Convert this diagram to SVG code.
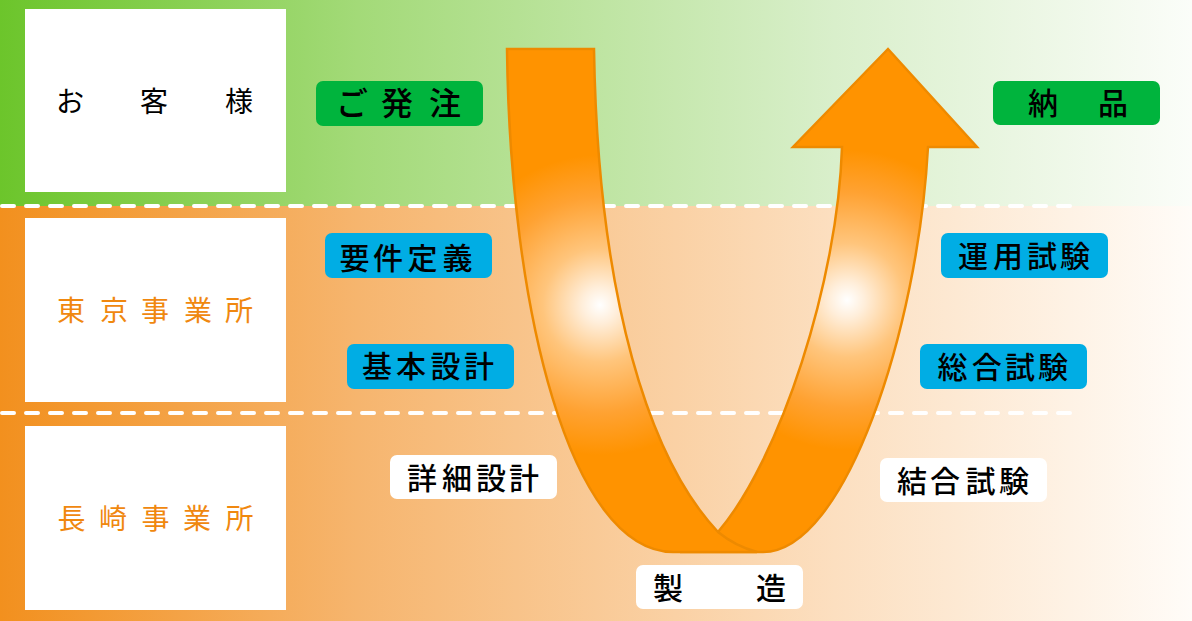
<svg xmlns="http://www.w3.org/2000/svg" width="1192" height="621" viewBox="0 0 1192 621">
<defs>
<linearGradient id="gGreen" x1="0" y1="0" x2="1192" y2="0" gradientUnits="userSpaceOnUse">
<stop offset="0" stop-color="#6CC52B"/>
<stop offset="0.3" stop-color="#A3DA78"/>
<stop offset="0.7" stop-color="#D9EFCB"/>
<stop offset="1" stop-color="#FBFDF9"/>
</linearGradient>
<linearGradient id="gOrange" x1="0" y1="0" x2="1192" y2="0" gradientUnits="userSpaceOnUse">
<stop offset="0" stop-color="#F2901E"/>
<stop offset="0.3" stop-color="#F6B56E"/>
<stop offset="0.7" stop-color="#FCDFC0"/>
<stop offset="1" stop-color="#FFFCF8"/>
</linearGradient>
<radialGradient id="hlL" cx="600" cy="305" r="150" gradientUnits="userSpaceOnUse">
<stop offset="0" stop-color="#FFFFFF"/>
<stop offset="0.12" stop-color="#FFEEDA"/>
<stop offset="0.38" stop-color="#FFC57C"/>
<stop offset="0.72" stop-color="#FFA232"/>
<stop offset="1" stop-color="#FF9300"/>
</radialGradient>
<radialGradient id="hlR" cx="847" cy="300" r="150" gradientUnits="userSpaceOnUse">
<stop offset="0" stop-color="#FFFFFF"/>
<stop offset="0.12" stop-color="#FFEEDA"/>
<stop offset="0.38" stop-color="#FFC57C"/>
<stop offset="0.72" stop-color="#FFA232"/>
<stop offset="1" stop-color="#FF9300"/>
</radialGradient>
<style>
.dash{stroke:#FFFFFF;stroke-width:4;stroke-dasharray:12 12;stroke-linecap:round;fill:none}
.side{fill:#FFFFFF}
.lbl{font-family:"Noto Sans CJK JP","Noto Sans",sans-serif;font-size:30px;font-weight:500;fill:#000000;text-anchor:middle}
.side-k{font-family:"Noto Sans CJK JP","Noto Sans",sans-serif;font-size:28px;fill:#000000;text-anchor:middle}
.side-o{font-family:"Noto Sans CJK JP","Noto Sans",sans-serif;font-size:28px;fill:#F0880F;text-anchor:middle}
.green{fill:#00B43D}
.blue{fill:#00ADE4}
.white{fill:#FFFFFF}
.strip{stroke:#EE8A00;stroke-width:2.5;stroke-linejoin:miter}
</style>
</defs>
<g id="background">
<rect x="0" y="0" width="1192" height="206" fill="url(#gGreen)"/>
<rect x="0" y="206" width="1192" height="415" fill="url(#gOrange)"/>
<line class="dash" x1="2" y1="206" x2="1082" y2="206"/>
<line class="dash" x1="2" y1="413" x2="1082" y2="413"/>
</g>
<g id="connectors">
<path class="strip" fill="url(#hlR)" d="M680,552 L763,552 C845,552 918,330 928,147 L977,147 L888,49 L793,147 L842,147 C838,280 780,460 718,532 Q700,548 680,552 Z"/>
<path class="strip" fill="url(#hlL)" d="M507,49 L594,49 C598,300 650,460 718,532 Q735,546 757,552 L673,552 C570,551 510,310 507,49 Z"/>
</g>
<g id="customer">
<rect class="side" x="25" y="9" width="261" height="183"/>
<text class="side-k" x="70 154 239" y="112">お客様</text>
</g>
<g id="tokyo">
<rect class="side" x="25" y="218" width="261" height="184"/>
<text class="side-o" x="71 114 155 198 239" y="321">東京事業所</text>
</g>
<g id="nagasaki">
<rect class="side" x="25" y="426" width="261" height="184"/>
<text class="side-o" x="71.5 113 155.5 197 239.5" y="529">長崎事業所</text>
</g>
<g id="order">
<rect class="green" x="316" y="81" width="167" height="45" rx="7"/>
<text class="lbl" style="font-size:32px" x="352 397 445" y="115">ご発注</text>
</g>
<g id="delivery">
<rect class="green" x="993" y="81" width="167" height="44" rx="7"/>
<text class="lbl" x="1043 1113" y="114">納品</text>
</g>
<g id="requirements">
<rect class="blue" x="325" y="233" width="167" height="45" rx="7"/>
<text class="lbl" x="354.5 388 422.5 457.5" y="269">要件定義</text>
</g>
<g id="basic-design">
<rect class="blue" x="347" y="344" width="167" height="45" rx="7"/>
<text class="lbl" x="377 411 445.5 479" y="377">基本設計</text>
</g>
<g id="detail-design">
<rect class="white" x="390" y="455" width="167" height="44" rx="7"/>
<text class="lbl" x="422 457 491 524" y="489">詳細設計</text>
</g>
<g id="manufacturing">
<rect class="white" x="636" y="565" width="167" height="44" rx="7"/>
<text class="lbl" x="668 771" y="599">製造</text>
</g>
<g id="integration-test">
<rect class="white" x="880" y="458" width="167" height="44" rx="7"/>
<text class="lbl" x="912 945 980.5 1014" y="492">結合試験</text>
</g>
<g id="system-test">
<rect class="blue" x="920" y="344" width="167" height="45" rx="7"/>
<text class="lbl" x="952.5 986.7 1020 1053" y="378">総合試験</text>
</g>
<g id="operation-test">
<rect class="blue" x="941" y="233" width="167" height="45" rx="7"/>
<text class="lbl" x="973 1008 1042 1075" y="267">運用試験</text>
</g>
</svg>
